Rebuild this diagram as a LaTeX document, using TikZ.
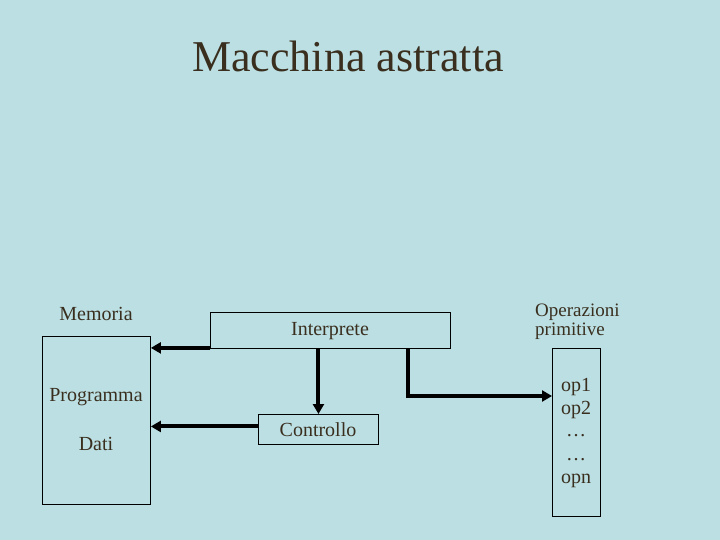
\documentclass[tikz,border=0pt]{standalone}
\usepackage{fontspec}
\setmainfont{Liberation Serif}
\usetikzlibrary{arrows.meta}
\definecolor{bg}{HTML}{BBDFE3}
\definecolor{txt}{HTML}{3A2F1F}
\begin{document}
\begin{tikzpicture}[x=1pt,y=-1pt,
  box/.style={draw=black,line width=0.9pt,inner sep=0pt,anchor=north west},
  lbl/.style={text=txt,font=\fontsize{20}{22}\selectfont,inner sep=0pt},
  conn/.style={line width=4pt,-{Triangle[length=10pt,width=11pt]}}]
\fill[bg] (0,0) rectangle (720,540);
\useasboundingbox (0,0) rectangle (720,540);
\node[text=txt,font=\fontsize{44}{48}\selectfont,inner sep=0pt] (title) at (348,56) {Macchina astratta};
% boxes
\node[box,minimum width=108pt,minimum height=168pt] (mem) at (42,336) {};
\node[box,minimum width=240pt,minimum height=36pt] (interp) at (210,312) {};
\node[box,minimum width=120pt,minimum height=30pt] (ctrl) at (258,414) {};
\node[box,minimum width=48pt,minimum height=168pt] (ops) at (552,348) {};
% labels
\node[lbl] (memlbl) at (96,314) {Memoria};
\node[lbl] (prog) at (96,397) {Programma};
\node[lbl] (dati) at (96,444) {Dati};
\node[lbl] (interplbl) at (330,331) {Interprete};
\node[lbl] (ctrllbl) at (318,430) {Controllo};
\node[lbl,align=left,anchor=west,font=\fontsize{19}{19}\selectfont] (opslbl) at (535,322) {Operazioni\\primitive};
\node[lbl] (op1) at (576,387) {op1};
\node[lbl] (op2) at (576,410) {op2};
\node[lbl] (d1) at (576,436) {\ldots};
\node[lbl] (d2) at (576,460) {\ldots};
\node[lbl] (opn) at (576,481) {opn};
% connectors
\coordinate (ilow) at ([yshift=1pt]interp.south west);
\draw[conn] (ilow) -- (ilow -| mem.east);
\draw[conn] (interp.south -| ctrl.north) -- (ctrl.north);
\coordinate (istart) at ([xshift=198pt]interp.south west);
\coordinate (ibend) at (istart |- 0,396);
\draw[conn] (istart) -- (ibend) -- (ibend -| ops.west);
\coordinate (cleft) at ([yshift=3pt]ctrl.west);
\draw[conn] (cleft) -- (cleft -| mem.east);
\end{tikzpicture}
\end{document}
